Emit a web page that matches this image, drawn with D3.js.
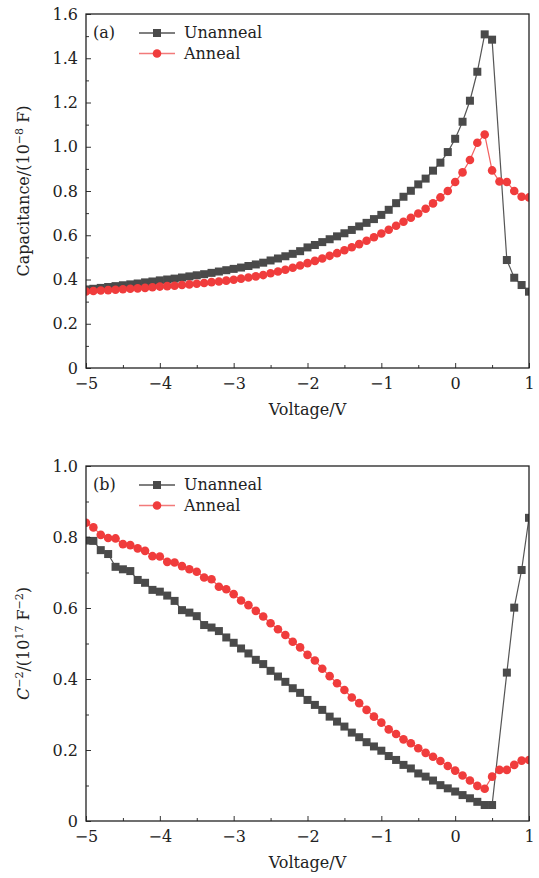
<!DOCTYPE html>
<html>
<head>
<meta charset="utf-8">
<script src="https://cdn.jsdelivr.net/npm/d3@7"></script>
<style>
  body { margin: 0; background: #fff; }
  svg text { font-family: "DejaVu Serif", "Liberation Serif", serif; fill: #222; }
</style>
</head>
<body>
<div id="chart"></div>
<script>
// bias voltage (V), one reading every 0.1 V
var voltage = [-5.0,-4.9,-4.8,-4.7,-4.6,-4.5,-4.4,-4.3,-4.2,-4.1,
  -4.0,-3.9,-3.8,-3.7,-3.6,-3.5,-3.4,-3.3,-3.2,-3.1,
  -3.0,-2.9,-2.8,-2.7,-2.6,-2.5,-2.4,-2.3,-2.2,-2.1,
  -2.0,-1.9,-1.8,-1.7,-1.6,-1.5,-1.4,-1.3,-1.2,-1.1,
  -1.0,-0.9,-0.8,-0.7,-0.6,-0.5,-0.4,-0.3,-0.2,-0.1,
  0.0,0.1,0.2,0.3,0.4,0.5,0.6,0.7,0.8,0.9,1.0];

// (a) capacitance, 1e-8 F
var capUnanneal = [0.355,0.358,0.362,0.366,0.370,0.374,0.378,0.382,0.387,0.391,
  0.396,0.400,0.404,0.409,0.414,0.419,0.424,0.430,0.436,0.442,
  0.448,0.454,0.461,0.468,0.476,0.486,0.495,0.505,0.516,0.528,
  0.545,0.556,0.569,0.582,0.595,0.609,0.624,0.640,0.656,0.673,
  0.692,0.715,0.745,0.774,0.801,0.830,0.856,0.892,0.928,0.976,
  1.036,1.113,1.208,1.339,1.508,1.484,null,0.488,0.408,0.375,0.345];
var capAnneal = [0.346,0.348,0.350,0.352,0.354,0.356,0.358,0.360,0.362,0.365,
  0.368,0.370,0.372,0.375,0.378,0.381,0.384,0.388,0.391,0.395,
  0.399,0.404,0.409,0.414,0.420,0.428,0.436,0.444,0.453,0.463,
  0.474,0.484,0.495,0.507,0.519,0.532,0.546,0.560,0.575,0.591,
  0.608,0.625,0.643,0.661,0.679,0.698,0.720,0.744,0.771,0.800,
  0.841,0.884,0.940,1.018,1.055,0.893,0.843,0.841,0.800,0.774,0.771];

// (b) C^-2, 1e17 F^-2
var invUnanneal = [0.790,0.789,0.763,0.752,0.716,0.709,0.704,0.679,0.671,0.651,
  0.646,0.635,0.620,0.594,0.587,0.577,0.552,0.545,0.535,0.517,
  0.502,0.486,0.472,0.454,0.442,0.423,0.407,0.392,0.374,0.361,
  0.341,0.327,0.313,0.294,0.280,0.266,0.249,0.236,0.222,0.210,
  0.198,0.183,0.172,0.158,0.148,0.134,0.125,0.114,0.101,0.092,
  0.083,0.073,0.064,0.054,0.045,0.045,null,0.418,0.601,0.707,0.854];
var invAnneal = [0.840,0.827,0.806,0.797,0.796,0.780,0.777,0.768,0.761,0.746,
  0.745,0.730,0.728,0.718,0.709,0.702,0.686,0.681,0.660,0.653,
  0.639,0.621,0.608,0.592,0.576,0.557,0.540,0.524,0.505,0.489,
  0.468,0.452,0.429,0.408,0.388,0.369,0.348,0.332,0.313,0.294,
  0.277,0.258,0.245,0.230,0.219,0.205,0.192,0.181,0.169,0.155,
  0.142,0.128,0.114,0.099,0.091,0.125,0.144,0.144,0.158,0.170,0.172];

var xTicks = [-5,-4,-3,-2,-1,0,1];
var seriesNames = ["Unanneal", "Anneal"];

var grey = "#4a4a4a", red = "#f03c3c";
var fs = 16;

var svg = d3.select("#chart").append("svg")
  .attr("width", 539).attr("height", 878);

function pairs(vals) {
  return voltage.map(function(v, i) { return {v: v, c: vals[i]}; })
    .filter(function(d) { return d.c != null; });
}

function drawPanel(p) {
  var x = d3.scaleLinear().domain([-5, 1]).range([p.left, p.right]);
  var y = d3.scaleLinear().domain([0, p.yMax]).range([p.bottom, p.top]);
  var g = svg.append("g");

  g.append("clipPath").attr("id", p.id)
    .append("rect").attr("x", p.left).attr("y", p.top)
    .attr("width", p.right - p.left).attr("height", p.bottom - p.top);

  var plot = g.append("g").attr("clip-path", "url(#" + p.id + ")");
  var line = d3.line().x(function(d) { return x(d.v); }).y(function(d) { return y(d.c); });

  var dUn = pairs(p.un), dAn = pairs(p.an);

  plot.append("path").datum(dUn).attr("d", line)
    .attr("fill", "none").attr("stroke", "#555").attr("stroke-width", 1.2);
  plot.selectAll(".sq").data(dUn).enter().append("rect")
    .attr("x", function(d) { return x(d.v) - 4; })
    .attr("y", function(d) { return y(d.c) - 4; })
    .attr("width", 8).attr("height", 8)
    .attr("fill", grey);

  plot.append("path").datum(dAn).attr("d", line)
    .attr("fill", "none").attr("stroke", "#f26060").attr("stroke-width", 1.2);
  plot.selectAll(".ci").data(dAn).enter().append("circle")
    .attr("cx", function(d) { return x(d.v); })
    .attr("cy", function(d) { return y(d.c); })
    .attr("r", 4.3)
    .attr("fill", red);

  // axes, ticks pointing inward
  g.append("g").attr("transform", "translate(" + p.left + ",0)")
    .call(d3.axisLeft(y).tickValues(p.yTicks).tickSize(-5).tickPadding(8)
      .tickFormat(function(d) { return d === 0 ? "0" : d3.format(".1f")(d); }));
  g.append("g").attr("transform", "translate(" + p.left + ",0)")
    .call(d3.axisLeft(y).tickValues(p.yMinor).tickSize(-3).tickFormat(""));

  var xAx = g.append("g").attr("transform", "translate(0," + p.bottom + ")")
    .call(d3.axisBottom(x).tickValues(xTicks).tickSize(-5).tickPadding(9)
      .tickFormat(d3.format("d")));
  g.append("g").attr("transform", "translate(0," + p.bottom + ")")
    .call(d3.axisBottom(x).tickValues([-4.5,-3.5,-2.5,-1.5,-0.5,0.5]).tickSize(-3).tickFormat(""));

  g.selectAll(".domain").remove();
  g.selectAll(".tick line").attr("stroke", "#333").attr("stroke-width", 1);
  g.selectAll(".tick text").attr("font-size", fs).attr("fill", "#222")
    .attr("font-family", "DejaVu Serif, Liberation Serif, serif");
  xAx.selectAll(".tick text").attr("dy", "0.72em");

  g.append("rect").attr("x", p.left).attr("y", p.top)
    .attr("width", p.right - p.left).attr("height", p.bottom - p.top)
    .attr("fill", "none").attr("stroke", "#222").attr("stroke-width", 1.3);

  // axis titles
  g.append("text").attr("x", (p.left + p.right) / 2).attr("y", p.bottom + 47)
    .attr("text-anchor", "middle").attr("font-size", fs).text("Voltage/V");
  p.yTitle(g.append("text")
    .attr("transform", "translate(29," + ((p.top + p.bottom) / 2) + ") rotate(-90)")
    .attr("text-anchor", "middle").attr("font-size", fs));

  // panel label and legend
  g.append("text").attr("x", 93).attr("y", p.top + 24).attr("font-size", fs).text(p.label);
  seriesNames.forEach(function(name, i) {
    var ly = p.top + 19 + i * 20.5;
    g.append("line").attr("x1", 139).attr("x2", 175).attr("y1", ly).attr("y2", ly)
      .attr("stroke", i === 0 ? "#555" : "#f27a7a").attr("stroke-width", 1.3);
    if (i === 0) {
      g.append("rect").attr("x", 153).attr("y", ly - 4).attr("width", 8).attr("height", 8).attr("fill", grey);
    } else {
      g.append("circle").attr("cx", 157).attr("cy", ly).attr("r", 4.3).attr("fill", red);
    }
    g.append("text").attr("x", 184).attr("y", ly + 5).attr("font-size", fs).text(name);
  });
}

drawPanel({
  id: "clipA", label: "(a)", left: 86, right: 529, top: 14, bottom: 368, yMax: 1.6,
  yTicks: [0,0.2,0.4,0.6,0.8,1.0,1.2,1.4,1.6],
  yMinor: [0.1,0.3,0.5,0.7,0.9,1.1,1.3,1.5],
  un: capUnanneal, an: capAnneal,
  yTitle: function(t) {
    t.append("tspan").text("Capacitance/(10");
    t.append("tspan").attr("dy", -6).attr("font-size", 11).text("\u22128");
    t.append("tspan").attr("dy", 6).text(" F)");
  }
});

drawPanel({
  id: "clipB", label: "(b)", left: 86, right: 529, top: 466, bottom: 821, yMax: 1.0,
  yTicks: [0,0.2,0.4,0.6,0.8,1.0],
  yMinor: [0.1,0.3,0.5,0.7,0.9],
  un: invUnanneal, an: invAnneal,
  yTitle: function(t) {
    t.append("tspan").attr("font-style", "italic").text("C");
    t.append("tspan").attr("dy", -6).attr("font-size", 11).text("\u22122");
    t.append("tspan").attr("dy", 6).text("/(10");
    t.append("tspan").attr("dy", -6).attr("font-size", 11).text("17");
    t.append("tspan").attr("dy", 6).text(" F");
    t.append("tspan").attr("dy", -6).attr("font-size", 11).text("\u22122");
    t.append("tspan").attr("dy", 6).text(")");
  }
});
</script>
</body>
</html>
